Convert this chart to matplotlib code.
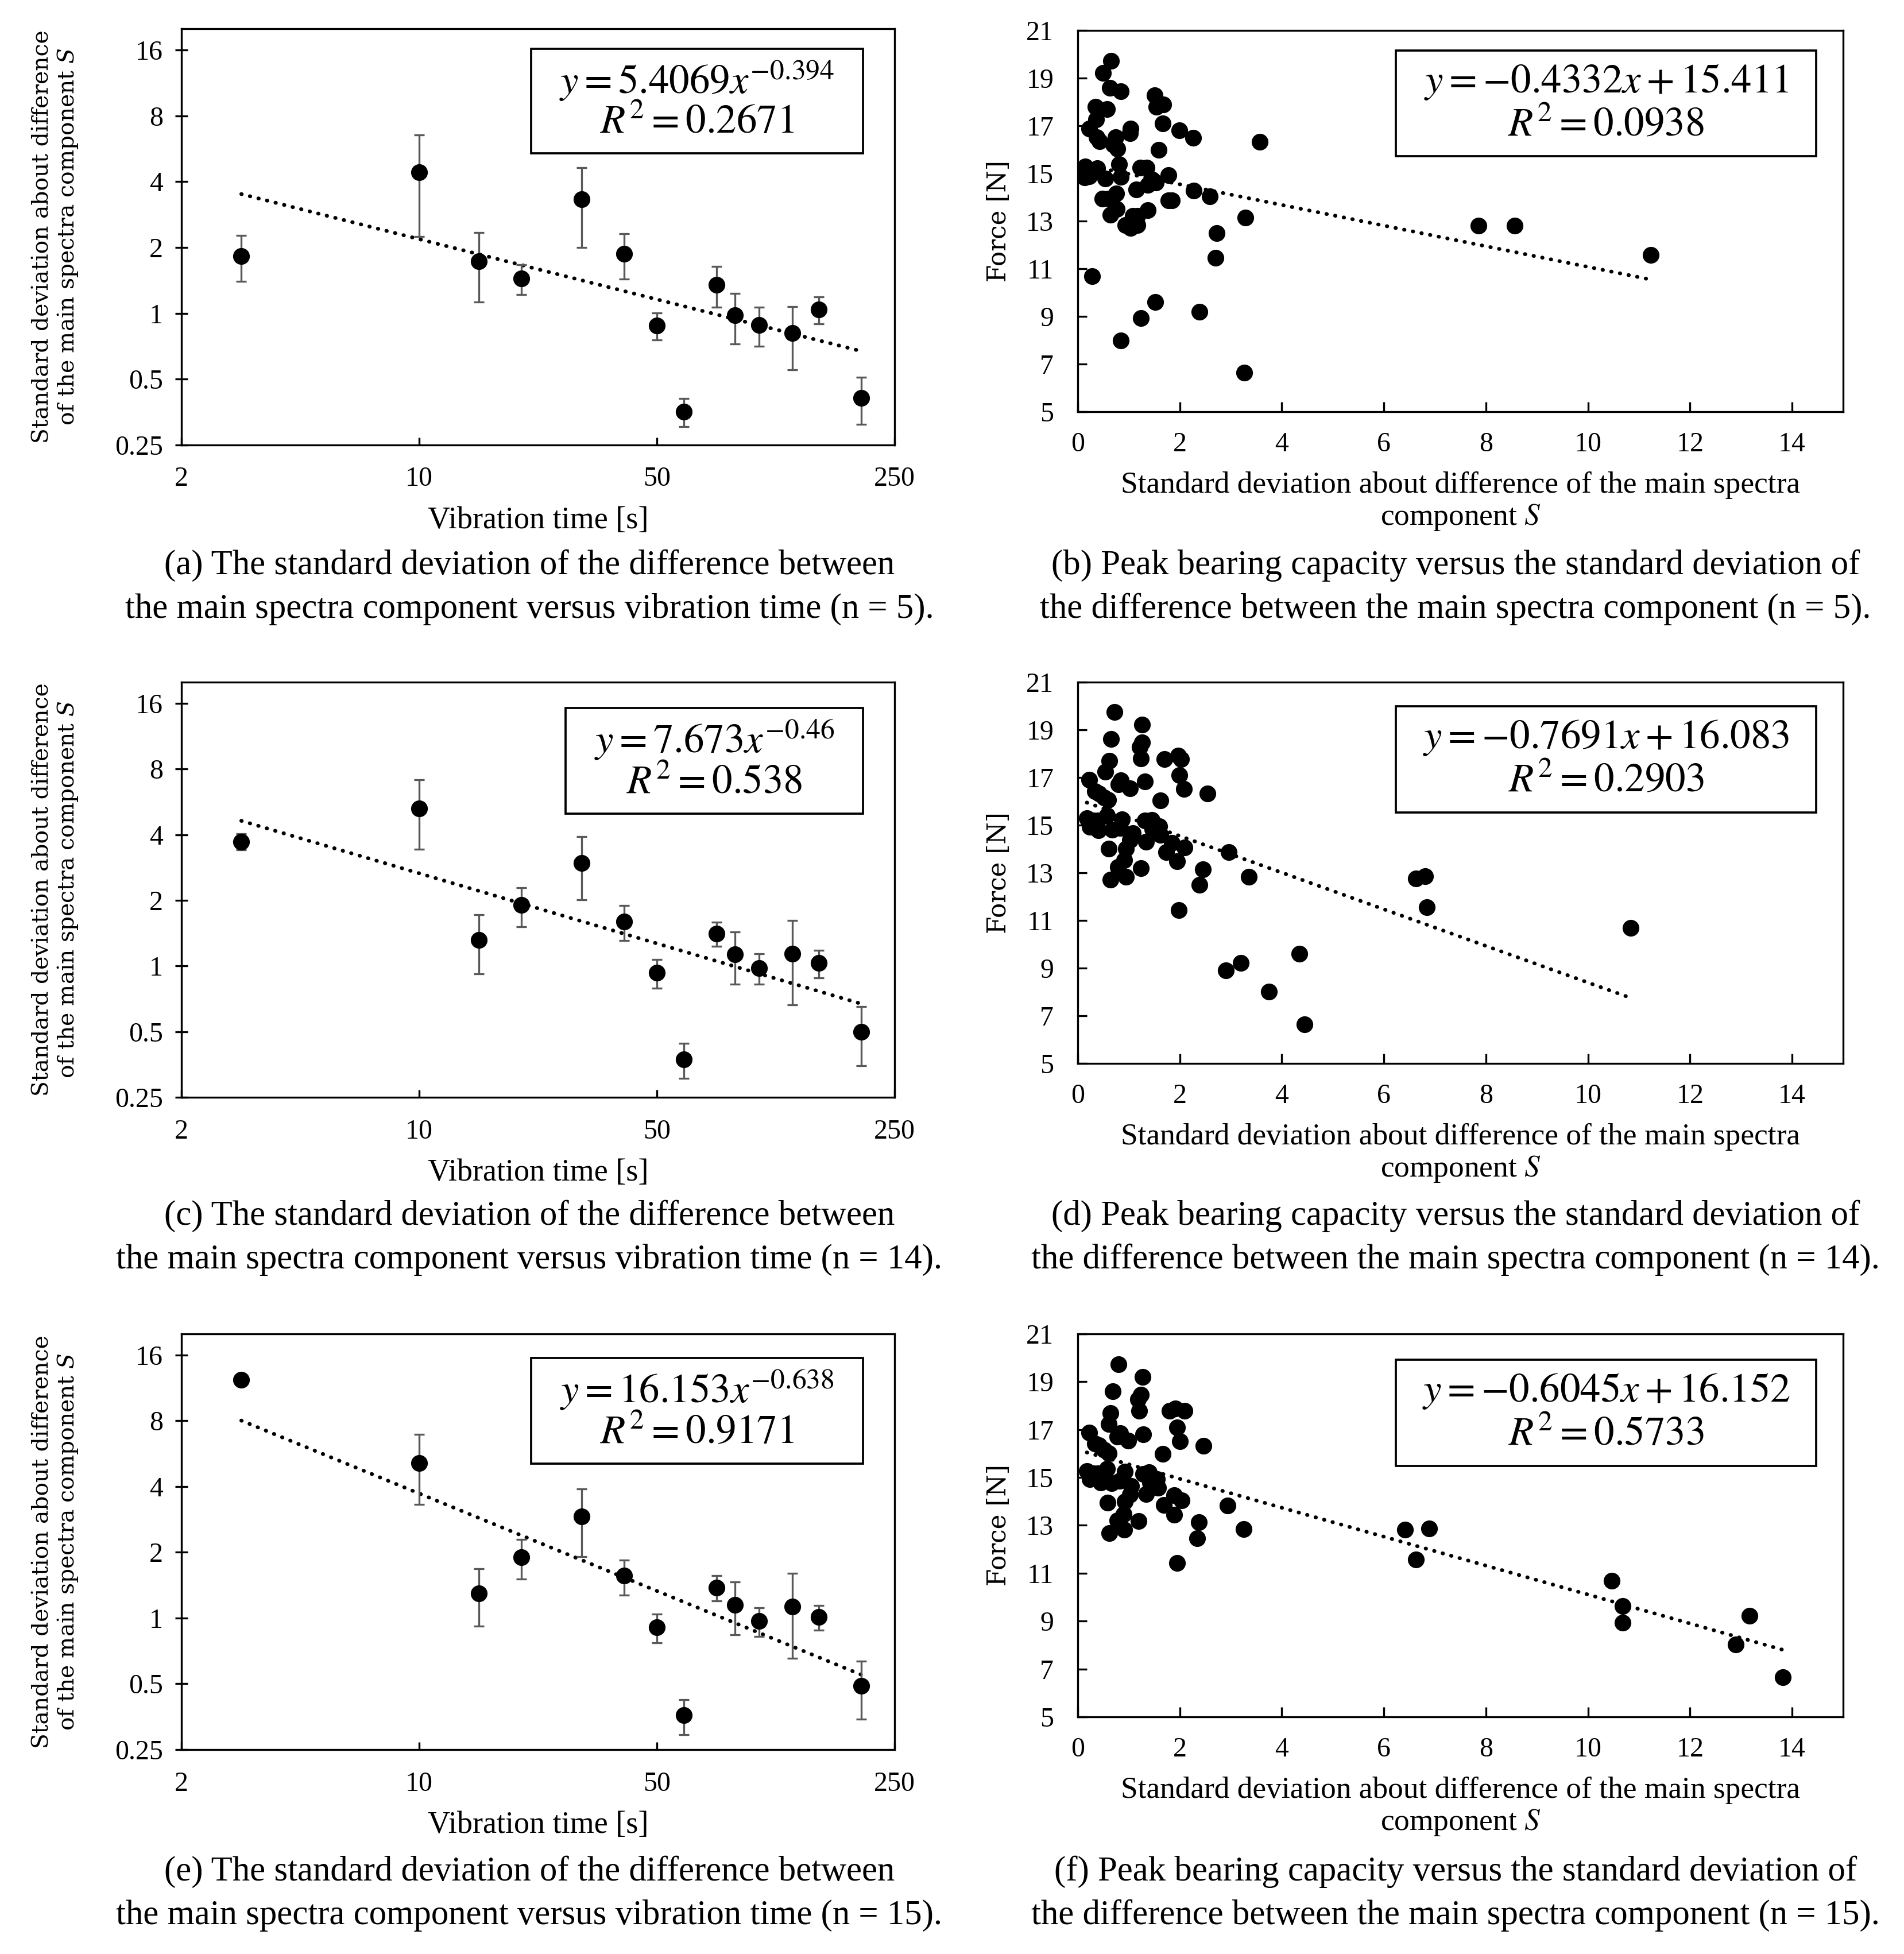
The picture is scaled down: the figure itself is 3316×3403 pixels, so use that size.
import numpy as np
import matplotlib
matplotlib.use('Agg')
import matplotlib.pyplot as plt
from matplotlib.patches import Rectangle
from matplotlib.ticker import NullLocator

plt.rcParams['font.family'] = ['Liberation Serif', 'DejaVu Serif']
plt.rcParams['mathtext.fontset'] = 'stix'

# left column: S versus vibration time
vib_time = [3, 10, 15, 20, 30, 40, 50, 60, 75, 85, 100, 125, 150, 200]

s_n5 = [1.83, 4.40, 1.73, 1.44, 3.32, 1.87, 0.88, 0.355, 1.35, 0.98, 0.886, 0.81, 1.04, 0.41]
s_n5_err = [0.435, 2.155, 0.605, 0.225, 1.32, 0.44, 0.125, 0.0525, 0.285, 0.255, 0.18, 0.26, 0.145, 0.10]

s_n14 = [3.72, 5.28, 1.32, 1.90, 2.96, 1.60, 0.93, 0.374, 1.41, 1.13, 0.98, 1.14, 1.03, 0.50]
s_n14_err = [0.315, 1.855, 0.40, 0.39, 0.95, 0.29, 0.14, 0.0685, 0.18, 0.305, 0.155, 0.478, 0.147, 0.15]

s_n15 = [12.28, 5.12, 1.30, 1.90, 2.91, 1.56, 0.907, 0.359, 1.38, 1.15, 0.97, 1.13, 1.01, 0.49]
s_n15_err = [0.49, 1.815, 0.38, 0.39, 0.995, 0.285, 0.135, 0.0655, 0.18, 0.31, 0.145, 0.475, 0.13, 0.146]

# power trendlines y = a * x^b
pow_n5 = (5.4069, -0.394)
pow_n14 = (7.673, -0.46)
pow_n15 = (16.153, -0.638)

# right column: force versus S
sd_n5 = [0.65, 0.50, 0.63, 0.84, 1.51, 0.35, 0.58, 1.54, 1.68, 0.36, 0.23, 1.04, 1.03, 1.67, 1.99, 2.26,
         3.57, 0.37, 0.43, 0.74, 0.70, 0.78, 1.59, 0.81, 0.15, 0.38, 0.14, 0.23, 0.54, 0.84, 1.23, 1.35,
         1.78, 1.47, 1.38, 1.53, 1.15, 0.75, 0.48, 0.61, 2.28, 2.59, 1.78, 1.85, 0.77, 0.64, 1.37, 1.08,
         1.17, 0.93, 1.04, 1.17, 3.29, 2.72, 2.70, 0.28, 1.52, 1.24, 2.39, 0.84, 3.27, 7.86, 8.57, 11.23]
force_n5 = [19.73, 19.23, 18.60, 18.45, 18.29, 17.79, 17.71, 17.79, 17.89, 17.27, 16.88, 16.88, 16.70, 17.09,
            16.81, 16.49, 16.33, 16.51, 16.36, 16.53, 16.20, 16.04, 15.99, 15.38, 15.28, 15.21, 14.84, 14.89,
            14.79, 14.86, 15.24, 15.24, 14.92, 14.74, 14.53, 14.61, 14.32, 14.16, 13.95, 13.95, 14.27, 14.04,
            13.87, 13.87, 13.50, 13.27, 13.46, 13.22, 13.22, 12.83, 12.70, 12.83, 13.15, 12.49, 11.45, 10.69,
            9.60, 8.92, 9.20, 8.00, 6.64, 12.81, 12.81, 11.58]

sd_n14 = [0.72, 1.26, 0.65, 1.26, 1.22, 1.24, 0.62, 1.70, 1.97, 2.03, 0.54, 0.23, 0.84, 0.80, 1.32, 1.02,
          1.99, 2.08, 2.54, 0.34, 0.42, 0.52, 0.60, 1.62, 0.57, 0.18, 0.31, 0.40, 0.24, 0.41, 0.87, 0.83,
          0.68, 1.32, 1.45, 1.60, 1.47, 1.62, 1.08, 1.02, 1.34, 1.85, 2.09, 0.61, 0.95, 1.74, 1.95, 2.96,
          0.91, 0.79, 1.24, 2.46, 0.64, 0.95, 2.39, 3.35, 1.98, 2.90, 3.20, 4.35, 3.75, 4.45, 6.63, 6.81,
          6.84, 10.84]
force_n14 = [19.74, 19.21, 18.62, 18.46, 18.28, 17.80, 17.70, 17.78, 17.91, 17.77, 17.24, 16.90, 16.87, 16.72,
             16.82, 16.53, 17.10, 16.51, 16.32, 16.41, 16.32, 16.16, 16.06, 16.03, 15.40, 15.29, 15.18, 15.18,
             14.92, 14.79, 15.24, 14.87, 14.81, 15.18, 15.21, 14.95, 14.82, 14.58, 14.66, 14.37, 14.31, 14.26,
             14.05, 14.00, 14.00, 13.87, 13.47, 13.86, 13.52, 13.23, 13.20, 13.15, 12.70, 12.83, 12.49, 12.83,
             11.43, 8.89, 9.21, 9.60, 8.02, 6.64, 12.76, 12.85, 11.55, 10.69]

sd_n15 = [0.80, 1.27, 0.69, 1.24, 1.18, 1.21, 0.64, 1.80, 1.91, 2.09, 0.61, 0.23, 0.83, 0.78, 1.29, 0.99,
          1.95, 2.01, 2.47, 0.34, 0.42, 0.52, 0.61, 1.67, 0.57, 0.18, 0.31, 0.40, 0.24, 0.45, 0.92, 0.82,
          0.67, 1.28, 1.40, 1.56, 1.42, 1.58, 1.05, 1.02, 1.34, 1.89, 2.04, 0.59, 0.92, 1.69, 1.89, 2.94,
          0.90, 0.78, 1.20, 2.38, 0.62, 0.91, 2.34, 3.25, 1.95, 6.42, 6.89, 6.63, 10.47, 10.68, 10.68, 13.17,
          12.90, 13.82]
force_n15 = [19.72, 19.20, 18.59, 18.45, 18.27, 17.78, 17.69, 17.78, 17.88, 17.78, 17.24, 16.88, 16.85, 16.71,
             16.79, 16.53, 17.08, 16.50, 16.32, 16.42, 16.34, 16.16, 16.00, 15.98, 15.37, 15.26, 15.18, 15.18,
             14.92, 14.79, 15.23, 14.86, 14.77, 15.14, 15.21, 14.93, 14.79, 14.56, 14.63, 14.29, 14.31, 14.26,
             14.05, 13.94, 14.00, 13.86, 13.44, 13.83, 13.47, 13.21, 13.17, 13.13, 12.67, 12.82, 12.46, 12.84,
             11.42, 12.81, 12.86, 11.58, 10.68, 9.62, 8.93, 9.21, 8.01, 6.66]

# linear trendlines y = m * x + c
lin_n5 = (-0.4332, 15.411)
lin_n14 = (-0.7691, 16.083)
lin_n15 = (-0.6045, 16.152)

time_ticks = [2, 10, 50, 250]
s_ticks = [0.25, 0.5, 1, 2, 4, 8, 16]
s_tick_labels = ['0.25', '0.5', '1', '2', '4', '8', '16']
sd_ticks = [0, 2, 4, 6, 8, 10, 12, 14]
force_ticks = [5, 7, 9, 11, 13, 15, 17, 19, 21]

captions = [
    "(a) The standard deviation of the difference between\nthe main spectra component versus vibration time (n = 5).",
    "(b) Peak bearing capacity versus the standard deviation of\nthe difference between the main spectra component (n = 5).",
    "(c) The standard deviation of the difference between\nthe main spectra component versus vibration time (n = 14).",
    "(d) Peak bearing capacity versus the standard deviation of\nthe difference between the main spectra component (n = 14).",
    "(e) The standard deviation of the difference between\nthe main spectra component versus vibration time (n = 15).",
    "(f) Peak bearing capacity versus the standard deviation of\nthe difference between the main spectra component (n = 15).",
]

DOT = (0, (0.1, 2.2))
DOT_LW = 1.6
EQ_SIZE = 17
MS = 6


def eq_box(ax, x0, y0, x1, y1, line1, line2):
    ax.add_patch(Rectangle((x0, y0), x1 - x0, y1 - y0, transform=ax.transAxes,
                           facecolor='white', edgecolor='black', lw=0.9, zorder=5))
    xc = (x0 + x1) / 2
    h = y1 - y0
    ax.text(xc, y0 + 0.70 * h, line1, transform=ax.transAxes, ha='center', va='center',
            fontsize=EQ_SIZE, zorder=6)
    ax.text(xc, y0 + 0.29 * h, line2, transform=ax.transAxes, ha='center', va='center',
            fontsize=EQ_SIZE, zorder=6)


def style_spines(ax):
    for sp in ax.spines.values():
        sp.set_linewidth(0.8)


def plot_time(ax, y, yerr, fit, r2, box):
    ax.errorbar(vib_time, y, yerr=yerr, fmt='o', color='black', ms=MS,
                ecolor='#595959', elinewidth=0.8, capsize=2.2, capthick=0.8, zorder=3)
    t = np.geomspace(min(vib_time), max(vib_time), 200)
    ax.plot(t, fit[0] * t ** fit[1], color='black', lw=DOT_LW, linestyle=DOT,
            dash_capstyle='round', zorder=2)
    ax.set_xscale('log', base=5)
    ax.set_yscale('log', base=2)
    ax.set_xlim(2, 250)
    ax.set_ylim(0.25, 20)
    ax.set_xticks(time_ticks)
    ax.set_xticklabels([str(v) for v in time_ticks])
    ax.set_yticks(s_ticks)
    ax.set_yticklabels(s_tick_labels)
    ax.xaxis.set_minor_locator(NullLocator())
    ax.yaxis.set_minor_locator(NullLocator())
    ax.tick_params(axis='x', direction='in', length=3.2, width=0.8, pad=9, labelsize=11.5)
    ax.tick_params(axis='y', direction='inout', length=5.5, width=0.8, pad=5, labelsize=11.5)
    ax.set_xlabel('Vibration time [s]', fontsize=13, labelpad=6)
    ax.text(-0.176, 0.5, 'Standard deviation about difference\nof the main spectra component $S$',
            transform=ax.transAxes, rotation=90, ha='center', va='center',
            fontsize=9.4, family='DejaVu Serif', math_fontfamily='dejavuserif',
            multialignment='center', linespacing=1.15)
    style_spines(ax)
    sign = '-' if fit[1] < 0 else ''
    eq_box(ax, *box, r'$y = %s x^{%s%s}$' % (fit[0], sign, str(abs(fit[1]))), r'$R^2 = %s$' % r2)


def plot_force(ax, x, y, fit, r2, box):
    ax.plot(x, y, 'o', color='black', ms=MS, zorder=3)
    xs = np.linspace(min(x), max(x), 50)
    ax.plot(xs, fit[0] * xs + fit[1], color='black', lw=DOT_LW, linestyle=DOT,
            dash_capstyle='round', zorder=2)
    ax.set_xlim(0, 15)
    ax.set_ylim(5, 21)
    ax.set_xticks(sd_ticks)
    ax.set_yticks(force_ticks)
    ax.tick_params(axis='x', direction='in', length=4, width=0.8, pad=8.5, labelsize=11.5)
    ax.tick_params(axis='y', direction='in', length=3.8, width=0.8, pad=10, labelsize=11.5)
    ax.set_xlabel('Standard deviation about difference of the main spectra\ncomponent $S$',
                  fontsize=12.8, labelpad=6, linespacing=1.15)
    ax.text(-0.103, 0.5, 'Force [N]', transform=ax.transAxes, rotation=90, ha='center',
            va='center', fontsize=10.5, family='DejaVu Serif')
    style_spines(ax)
    eq_box(ax, *box, r'$y = -%sx + %s$' % (abs(fit[0]), fit[1]), r'$R^2 = %s$' % r2)


fig = plt.figure(figsize=(3316 / 300, 3403 / 300), dpi=300)

ax_a = fig.add_axes([0.0953, 0.7723, 0.3745, 0.2130])
ax_b = fig.add_axes([0.5660, 0.7893, 0.4020, 0.1951])
ax_c = fig.add_axes([0.0953, 0.4384, 0.3745, 0.2125])
ax_d = fig.add_axes([0.5660, 0.4558, 0.4020, 0.1951])
ax_e = fig.add_axes([0.0953, 0.1046, 0.3745, 0.2128])
ax_f = fig.add_axes([0.5660, 0.1214, 0.4020, 0.1960])

plot_time(ax_a, s_n5, s_n5_err, pow_n5, '0.2671', (0.49, 0.70, 0.956, 0.952))
plot_time(ax_c, s_n14, s_n14_err, pow_n14, '0.538', (0.539, 0.683, 0.956, 0.938))
plot_time(ax_e, s_n15, s_n15_err, pow_n15, '0.9171', (0.49, 0.688, 0.956, 0.942))

plot_force(ax_b, sd_n5, force_n5, lin_n5, '0.0938', (0.416, 0.67, 0.965, 0.947))
plot_force(ax_d, sd_n14, force_n14, lin_n14, '0.2903', (0.416, 0.658, 0.965, 0.937))
plot_force(ax_f, sd_n15, force_n15, lin_n15, '0.5733', (0.416, 0.655, 0.965, 0.933))

cap_y = [0.6994, 0.3665, 0.0309]
for row in range(3):
    fig.text(0.278, cap_y[row], captions[2 * row], ha='center', va='center',
             fontsize=14.6, multialignment='center', linespacing=1.45)
    fig.text(0.7645, cap_y[row], captions[2 * row + 1], ha='center', va='center',
             fontsize=14.6, multialignment='center', linespacing=1.45)

fig.savefig('out.png', dpi=300)
